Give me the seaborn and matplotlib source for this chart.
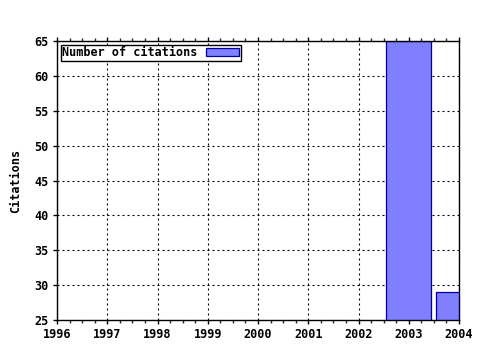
import matplotlib
matplotlib.use("Agg")
import matplotlib.pyplot as plt
import seaborn as sns
import pandas as pd
from matplotlib.ticker import AutoMinorLocator
from matplotlib.patches import Patch

years = [2003, 2004]
citations = [65, 29]
xticks = [1996, 1997, 1998, 1999, 2000, 2001, 2002, 2003, 2004]
yticks = [25, 30, 35, 40, 45, 50, 55, 60, 65]

sns.set_style("white")
plt.rcParams['font.family'] = ['DejaVu Sans Mono']
plt.rcParams['font.weight'] = 'bold'
plt.rcParams['text.color'] = 'black'

fig = plt.figure(figsize=(4.8, 3.5), dpi=100)
ax = fig.add_axes([57/480, 1-320/350, 402/480, 279/350])

df = pd.DataFrame({"year": years, "citations": citations})
sns.barplot(data=df, x="year", y="citations", native_scale=True, width=0.9,
            color="#8080ff", edgecolor="#0000a0", linewidth=0.9, saturation=1,
            ax=ax, zorder=3)

ax.set_xlim(1996, 2004)
ax.set_ylim(25, 65)
ax.set_xticks(xticks)
ax.set_xticklabels([str(t) for t in xticks])
ax.set_yticks(yticks)
ax.xaxis.set_minor_locator(AutoMinorLocator(4))
ax.grid(True, which='major', linestyle=(0, (1.8, 2.7)), color='black', linewidth=0.8, zorder=1)
ax.set_axisbelow(True)
for s in ax.spines.values():
    s.set_visible(True)
    s.set_color('black')
    s.set_linewidth(1.0)
    s.set_zorder(5)
ax.tick_params(which='major', direction='out', length=3, width=1, top=True, right=False,
               bottom=True, left=True, labelsize=8.5, colors='black', pad=3)
ax.tick_params(which='minor', direction='out', length=2, width=1, top=True, bottom=True)
for lab in ax.get_xticklabels() + ax.get_yticklabels():
    lab.set_fontweight('bold')
ax.set_xlabel("")
ax.set_ylabel("Citations", fontsize=8.5, fontweight='bold', labelpad=9, color='black')

handle = Patch(facecolor="#8080ff", edgecolor="#0000a0", linewidth=0.9)
leg = ax.legend([handle], ["Number of citations"], loc='upper left', markerfirst=False,
                fancybox=False, frameon=True, edgecolor='black', framealpha=1,
                prop={'family': 'DejaVu Sans Mono', 'weight': 'bold', 'size': 8.5},
                borderpad=0.15, handlelength=2.8, handleheight=0.6, handletextpad=0.7,
                borderaxespad=0.3)
leg.get_frame().set_linewidth(1.0)
for t in leg.get_texts():
    t.set_color('black')
leg.set_zorder(6)

fig.savefig("out.png", dpi=100)
